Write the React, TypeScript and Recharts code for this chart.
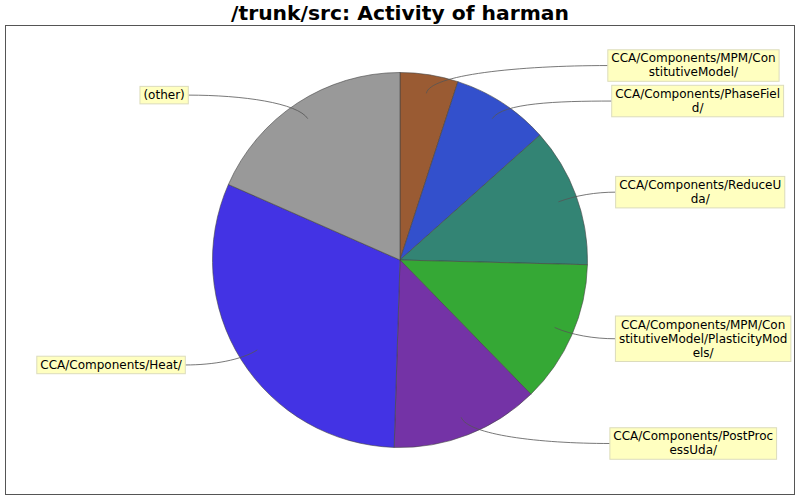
import { PieChart, Pie, Cell } from "recharts";

const categories = [
  "CCA/Components/MPM/ConstitutiveModel/",
  "CCA/Components/PhaseField/",
  "CCA/Components/ReduceUda/",
  "CCA/Components/MPM/ConstitutiveModel/PlasticityModels/",
  "CCA/Components/PostProcessUda/",
  "CCA/Components/Heat/",
  "(other)",
];

// label text as wrapped in the picture
const labelLines = [
  ["CCA/Components/MPM/Con", "stitutiveModel/"],
  ["CCA/Components/PhaseFiel", "d/"],
  ["CCA/Components/ReduceU", "da/"],
  ["CCA/Components/MPM/Con", "stitutiveModel/PlasticityMod", "els/"],
  ["CCA/Components/PostProc", "essUda/"],
  ["CCA/Components/Heat/"],
  ["(other)"],
];

const shares = [5.0, 8.4, 12.0, 12.3, 12.8, 31.1, 18.4];

const colors = ["#9a5b33", "#3350cc", "#338474", "#35a835", "#7433a6", "#4333e4", "#999999"];

const data = categories.map((name, i) => ({ name, value: shares[i] }));

const CX = 400;
const CY = 260;
const R = 187.5;
const FONT = "'DejaVu Sans', Verdana, sans-serif";
const LINE_H = 14;

let ctx: CanvasRenderingContext2D | null = null;
function textWidth(s: string) {
  if (!ctx) ctx = document.createElement("canvas").getContext("2d");
  if (!ctx) return s.length * 7;
  ctx.font = `12px ${FONT}`;
  return ctx.measureText(s).width;
}

// label heights around the pie, pushed apart where they would overlap
function labelPositions() {
  const total = shares.reduce((a, b) => a + b, 0);
  let acc = 0;
  const items = shares.map((v, i) => {
    const a = ((acc + v / 2) / total) * 2 * Math.PI;
    acc += v;
    const h = labelLines[i].length * LINE_H + 3.5;
    return { right: Math.sin(a) >= 0, y: CY - 1.05 * R * Math.cos(a), h };
  });
  [true, false].forEach((side) => {
    const list = items.filter((d) => d.right === side).sort((a, b) => a.y - b.y);
    for (let k = 1; k < list.length; k++) {
      const min = list[k - 1].y + list[k - 1].h / 2 + 4 + list[k].h / 2;
      if (list[k].y < min) list[k].y = min;
    }
  });
  return items.map((d) => d.y);
}
const labelY = labelPositions();

function renderLabel(props: any) {
  const { cx, cy, midAngle, outerRadius, index } = props;
  const rad = (-midAngle * Math.PI) / 180;
  const dx = Math.cos(rad);
  const dy = Math.sin(rad);
  const right = dx >= 0;
  const ax = cx + 0.9 * outerRadius * dx;
  const ay = cy + 0.9 * outerRadius * dy;
  const px = cx + outerRadius * dx;
  const py = cy + outerRadius * dy;
  const edge = cx + (right ? 1 : -1) * (1.1 * outerRadius + 10 * Math.abs(dx));
  const ty = labelY[index];
  const lines = labelLines[index];
  const w = Math.max(...lines.map(textWidth)) + 7;
  const h = lines.length * LINE_H + 3.5;
  const bx = right ? edge : edge - w;
  const by = ty - h / 2;
  const mx = (px + edge) / 2;
  return (
    <g key={`lab-${index}`}>
      <path
        d={`M${ax},${ay} C${px},${py} ${mx},${ty} ${edge},${ty}`}
        fill="none"
        stroke="#555"
        strokeWidth={0.8}
      />
      <rect x={bx} y={by} width={w} height={h} fill="#ffffc0" stroke="#dcdcbc" strokeWidth={1} />
      <text fontFamily={FONT} fontSize={12} fill="#000" textAnchor="middle">
        {lines.map((l, k) => (
          <tspan key={k} x={bx + w / 2} y={by + 12.5 + k * LINE_H}>
            {l}
          </tspan>
        ))}
      </text>
    </g>
  );
}

export default function App() {
  return (
    <div style={{ position: "absolute", left: 0, top: 0, width: 800, height: 500, background: "#fff" }}>
      <svg width={800} height={500} style={{ position: "absolute", left: 0, top: 0 }}>
        <text x={400} y={19.5} textAnchor="middle" fontFamily={FONT} fontWeight="bold" fontSize={20.3} fill="#000">
          /trunk/src: Activity of harman
        </text>
        <rect x={5.5} y={25.5} width={789} height={469} fill="none" stroke="#555" strokeWidth={1} />
      </svg>
      <div style={{ position: "absolute", left: 0, top: 0 }}>
        <PieChart width={800} height={500} margin={{ top: 0, right: 0, bottom: 0, left: 0 }}>
          <Pie
            data={data}
            dataKey="value"
            nameKey="name"
            cx={CX}
            cy={CY}
            outerRadius={R}
            startAngle={90}
            endAngle={-270}
            stroke="#444"
            strokeWidth={0.6}
            label={renderLabel}
            labelLine={false}
            isAnimationActive={false}
          >
            {data.map((d, i) => (
              <Cell key={d.name} fill={colors[i]} />
            ))}
          </Pie>
        </PieChart>
      </div>
    </div>
  );
}
